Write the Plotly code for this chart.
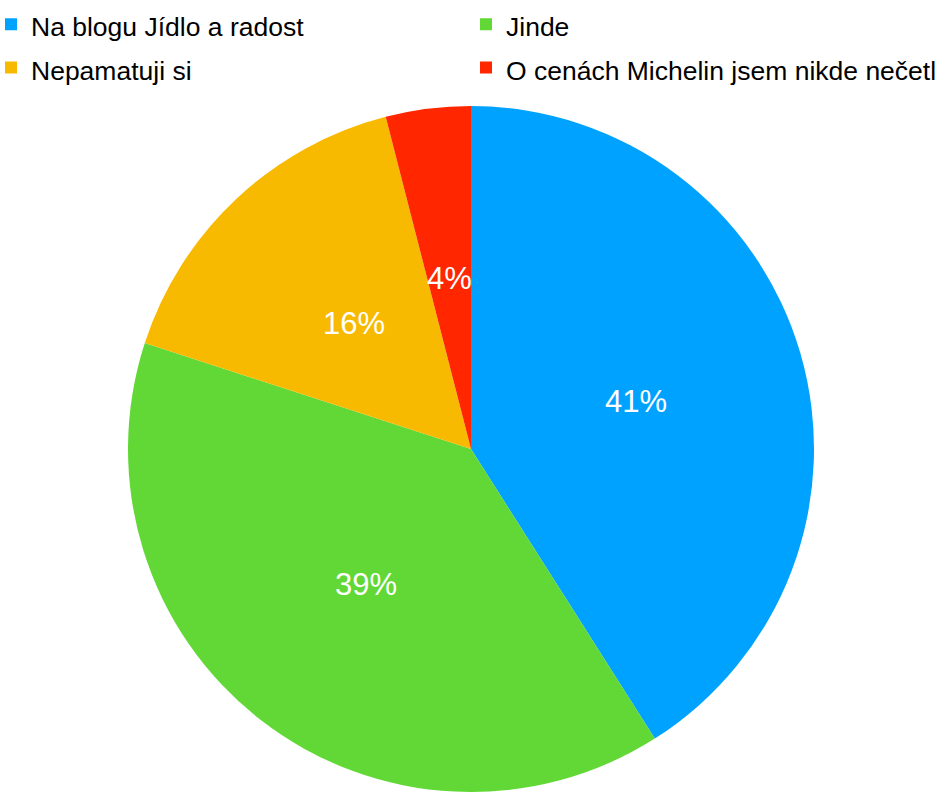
import math
import plotly.graph_objects as go

# Survey answers and their shares (percent)
labels = ["Na blogu Jídlo a radost", "Jinde", "Nepamatuji si",
          "O cenách Michelin jsem nikde nečetl"]
values = [41, 39, 16, 4]
colors = ["#00A2FF", "#61D836", "#F8BA00", "#FF2600"]

FONT = "Liberation Sans, Arial, sans-serif"
W, H = 946, 792
M_L, M_R, M_T, M_B = 0, 0, 106, 0
plot_w, plot_h = W - M_L - M_R, H - M_T - M_B
dom_x = [0, 942 / plot_w]
radius = min(plot_w * (dom_x[1] - dom_x[0]), plot_h) / 2
cx = M_L + plot_w * (dom_x[0] + dom_x[1]) / 2
cy = M_T + plot_h / 2

# legend rows are spaced for a 31px line; the entry text itself is 26.5px
legend_text = [f"<span style='font-size:26.5px'>{t}</span>" for t in labels]

fig = go.Figure(go.Pie(
    labels=legend_text,
    values=values,
    marker=dict(colors=colors, line=dict(width=0)),
    sort=False,
    direction="clockwise",
    rotation=0,
    textinfo="none",
    hoverinfo="label+percent",
    domain=dict(x=dom_x, y=[0, 1]),
))

# Percentage labels placed halfway out along each slice's bisector
total = sum(values)
start = 0.0
annotations = []
for v in values:
    frac = v / total
    mid = (start + frac / 2) * 2 * math.pi
    start += frac
    px = cx + 0.5 * radius * math.sin(mid)
    py = cy - 0.5 * radius * math.cos(mid)
    annotations.append(dict(
        x=(px - M_L) / plot_w, y=1 - (py - M_T) / plot_h,
        xref="paper", yref="paper", showarrow=False,
        text=f"{round(frac * 100)}%",
        font=dict(family=FONT, size=31, color="white"),
        xanchor="center", yanchor="middle",
    ))

fig.update_layout(
    width=W, height=H,
    margin=dict(l=M_L, r=M_R, t=M_T, b=M_B, autoexpand=False),
    paper_bgcolor="white",
    plot_bgcolor="white",
    font=dict(family=FONT, color="#000000"),
    showlegend=True,
    legend=dict(
        orientation="h",
        x=-9 / plot_w, xanchor="left",
        y=1 + (M_T + 2.5) / plot_h, yanchor="top",
        font=dict(size=31, color="#000000"),
        entrywidth=430, entrywidthmode="pixels",
        bgcolor="rgba(0,0,0,0)",
        traceorder="normal",
    ),
    annotations=annotations,
)

fig.write_html("out.html")
